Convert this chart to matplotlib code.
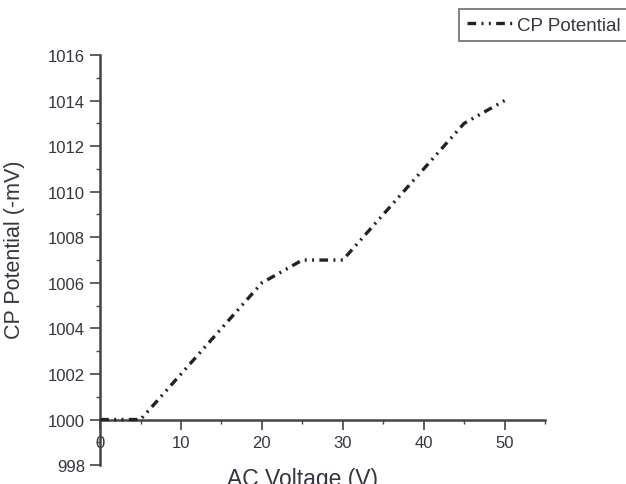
import matplotlib
matplotlib.use("Agg")
import matplotlib.pyplot as plt
from matplotlib.ticker import MultipleLocator

voltage = [0, 5, 10, 15, 20, 25, 30, 35, 40, 45, 50]
cp_potential = [1000, 1000, 1002, 1004, 1006, 1007, 1007, 1009, 1011, 1013, 1014]
x_ticks = [0, 10, 20, 30, 40, 50]
y_ticks = [998, 1000, 1002, 1004, 1006, 1008, 1010, 1012, 1014, 1016]

plt.rcParams['font.family'] = ['Liberation Sans', 'DejaVu Sans']
txt = '#353540'

fig = plt.figure(figsize=(6.26, 4.85), dpi=100)
ax = fig.add_axes([0.16, 0.039, 0.7106, 0.8455])

line, = ax.plot(voltage, cp_potential, color='#222222', lw=2.4,
                dashes=(2.6, 1.6, 0.6, 1.6, 0.6, 1.6), label='CP Potential',
                zorder=3, clip_on=False)

ax.set_xlim(0, 55)
ax.set_ylim(998, 1016)
ax.set_xticks(x_ticks)
ax.set_yticks(y_ticks)
ax.xaxis.set_minor_locator(MultipleLocator(5))
ax.yaxis.set_minor_locator(MultipleLocator(1))

for s in ['top', 'right']:
    ax.spines[s].set_visible(False)
ax.spines['bottom'].set_position(('data', 1000))
for s in ['left', 'bottom']:
    ax.spines[s].set_linewidth(1.8)
    ax.spines[s].set_color('#444444')

ax.tick_params(which='major', direction='out', length=7, width=1.2, colors='#444444',
               labelcolor=txt, labelsize=12)
ax.tick_params(which='minor', direction='out', length=3, width=1.0, colors='#444444')
ax.tick_params(axis='x', pad=4)
ax.tick_params(axis='y', pad=4)

ax.set_ylabel('CP Potential (-mV)', fontsize=15.5, color=txt)
ax.yaxis.set_label_coords(-0.168, 0.527)
ax.set_xlabel('AC Voltage (V)', fontsize=16.5, color=txt)
ax.xaxis.set_label_coords(0.454, -0.005)

leg = fig.legend(handles=[line], loc='upper left', bbox_to_anchor=(459 / 626, 1 - 10 / 485),
                 prop={'size': 13.5}, frameon=True, fancybox=False, handlelength=2.5,
                 handletextpad=0.2, borderpad=0.4, borderaxespad=0)
leg.get_frame().set_edgecolor('#555555')
leg.get_frame().set_linewidth(1.3)
for t in leg.get_texts():
    t.set_color(txt)

fig.savefig('out.png', dpi=100)
